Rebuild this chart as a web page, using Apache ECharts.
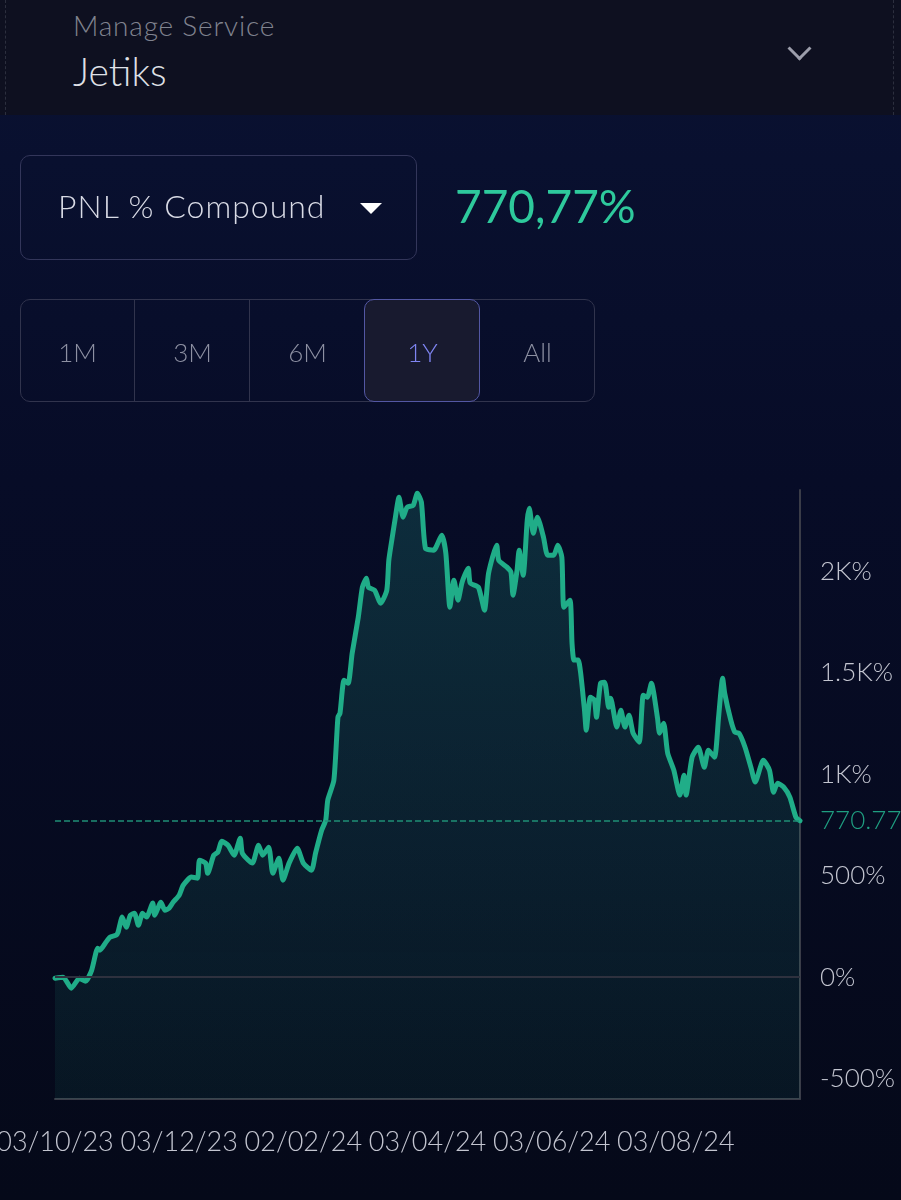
<!DOCTYPE html>
<html>
<head>
<meta charset="utf-8">
<script src="https://cdn.jsdelivr.net/npm/echarts@6/dist/echarts.min.js"></script>
<style>
  html, body { margin:0; padding:0; width:901px; height:1200px; overflow:hidden; }
  body { background: linear-gradient(180deg, #0a1233 0%, #070c27 40%, #050919 100%); font-family: Lato, "Open Sans", sans-serif; font-weight:300; position:relative; }
  #chart { position:absolute; left:0; top:0; width:901px; height:1200px; }
  .ui { position:absolute; pointer-events:none; }
  #header { left:0; top:0; width:901px; height:115px; background:#0e1020; }
  #header .bl { position:absolute; top:0; bottom:0; left:5px; border-left:1px dashed #2c2f3e; }
  #header .br { position:absolute; top:0; bottom:0; left:893px; border-left:1px dashed #2c2f3e; }
  .t { position:absolute; white-space:nowrap; line-height:1; }
</style>
</head>
<body>
<div id="chart"></div>
<div class="ui" id="header">
  <div class="bl"></div><div class="br"></div>
  <div class="t" style="left:73px; top:11px; font-size:28px; color:#80838f; letter-spacing:0.8px;">Manage Service</div>
  <div class="t" style="left:73px; top:52px; font-size:39px; color:#dfe0e6;">Jetiks</div>
  <div class="t" style="left:791px; top:40px; width:14px; height:14px; border-right:3px solid #9c9eab; border-bottom:3px solid #9c9eab; transform:rotate(45deg);"></div>
</div>
<div class="ui" style="left:20px; top:155px; width:395px; height:103px; border:1.5px solid #33365a; border-radius:10px;"></div>
<div class="t ui" style="left:58px; top:190px; font-size:32px; color:#d9dbe6; letter-spacing:1px;">PNL % Compound</div>
<div class="ui" style="left:360px; top:203px; width:0; height:0; border-left:11px solid transparent; border-right:11px solid transparent; border-top:11px solid #ffffff;"></div>
<div class="t ui" style="left:455px; top:183px; font-size:46px; color:#2ec99c; font-weight:400;">770,77%</div>

<div class="ui" style="left:20px; top:299px; width:573px; height:101px; border:1.5px solid #31344d; border-radius:10px;"></div>
<div class="ui" style="left:134px; top:300px; width:0; height:101px; border-left:1.5px solid #31344d;"></div>
<div class="ui" style="left:249px; top:300px; width:0; height:101px; border-left:1.5px solid #31344d;"></div>
<div class="ui" style="left:364px; top:299px; width:114px; height:101px; border:1.5px solid #5357a3; border-radius:10px; background:#181a2f;"></div>
<div class="t ui" style="left:20px; width:115px; top:339px; font-size:26px; color:#8d90a2; text-align:center;">1M</div>
<div class="t ui" style="left:135px; width:115px; top:339px; font-size:26px; color:#8d90a2; text-align:center;">3M</div>
<div class="t ui" style="left:250px; width:115px; top:339px; font-size:26px; color:#8d90a2; text-align:center;">6M</div>
<div class="t ui" style="left:365px; width:115px; top:339px; font-size:26px; color:#7f85f2; text-align:center;">1Y</div>
<div class="t ui" style="left:480px; width:115px; top:339px; font-size:26px; color:#8d90a2; text-align:center;">All</div>

<script>
// Days since 2023-10-03 (start of the 1Y window)
const startDate = '2023-10-03';
const dayOffsets = [0,4,8,12,15,18,21,22,25,27,30,31,33,35,37,39,41,43,45,48,49,52,54,56,58,61,63,67,70,71,74,75,78,80,82,85,88,91,92,95,97,100,102,105,107,110,112,115,119,122,126,128,131,133,134,137,139,140,142,144,146,149,151,153,154,157,160,163,164,166,167,169,171,173,176,178,180,182,186,190,192,194,196,198,200,203,204,208,211,213,217,218,222,224,225,227,228,230,232,233,235,237,240,242,245,247,249,250,253,254,255,257,260,261,263,265,266,268,270,272,273,276,278,280,282,284,287,289,291,293,296,297,299,301,304,307,309,310,313,316,319,321,324,326,328,329,332,334,336,339,342,344,348,351,353,355,358,361,364,366];
// PNL % compound values
const pnl = [-5,0,-54,-5,-20,34,143,133,172,197,207,222,296,246,305,315,256,315,296,365,305,369,330,340,369,404,453,493,488,576,562,512,601,616,670,650,601,685,611,576,562,650,601,640,512,586,478,562,635,562,527,611,724,773,872,970,1281,1300,1463,1448,1596,1773,1921,1965,1921,1906,1842,1906,2054,2187,2251,2364,2266,2315,2325,2384,2340,2113,2103,2177,2089,1823,1956,1857,1946,2015,1941,1921,1808,1990,2128,2054,2020,1995,1882,2005,2103,1980,2251,2310,2187,2266,2167,2079,2079,2128,2069,1823,1857,1645,1562,1562,1330,1217,1379,1365,1281,1448,1453,1330,1374,1232,1315,1232,1291,1202,1158,1389,1379,1448,1276,1202,1251,1103,1020,897,995,897,1084,1133,1034,1118,1084,1281,1473,1399,1266,1207,1202,1133,1030,961,1069,1020,911,956,936,887,788,770.77];
const yTickValues = [-500, 0, 500, 1000, 1500, 2000];
const currentValue = 770.77;

const startMs = Date.parse(startDate + 'T00:00:00Z');
function fmtDate(v) {
  const d = new Date(startMs + v * 86400000);
  const p = n => String(n).padStart(2, '0');
  return p(d.getUTCDate()) + '/' + p(d.getUTCMonth() + 1) + '/' + p(d.getUTCFullYear() % 100);
}
function fmtPct(v) {
  if (Math.abs(v) >= 1000) return (v / 1000) + 'K%';
  return v + '%';
}

const chart = echarts.init(document.getElementById('chart'), null, { renderer: 'canvas' });
chart.setOption({
  backgroundColor: 'transparent',
  animation: false,
  grid: { left: 55, right: 101, top: 490, bottom: 101, containLabel: false, outerBoundsMode: 'none' },
  xAxis: {
    type: 'value', min: 0, max: 366, interval: 61,
    axisLine: { show: true, onZero: false, lineStyle: { color: '#3a3c48', width: 2 } },
    axisTick: { show: false },
    splitLine: { show: false },
    axisLabel: {
      margin: 30, color: '#c3c5d0', fontSize: 27, fontFamily: 'Lato', fontWeight: 300,
      showMaxLabel: false,
      formatter: v => (v > 360 ? '' : fmtDate(v))
    }
  },
  yAxis: {
    type: 'value', position: 'right', min: -600, max: 2400,
    axisLine: { show: true, onZero: false, lineStyle: { color: '#3a3c48', width: 2 } },
    axisTick: { show: false },
    splitLine: { show: false },
    axisLabel: {
      margin: 20, color: '#c3c5d0', fontSize: 26, fontFamily: 'Lato', fontWeight: 300,
      customValues: yTickValues,
      formatter: v => fmtPct(v)
    }
  },
  series: [{
    type: 'line',
    data: dayOffsets.map((d, i) => [d, pnl[i]]),
    showSymbol: false,
    smooth: 0.2,
    lineStyle: { color: '#20ad88', width: 5, join: 'round', cap: 'round' },
    areaStyle: {
      origin: 'start',
      color: new echarts.graphic.LinearGradient(0, 0, 0, 1, [
        { offset: 0, color: 'rgba(45,190,155,0.27)' },
        { offset: 1, color: 'rgba(45,190,155,0.10)' }
      ])
    },
    markLine: {
      silent: true, symbol: 'none', animation: false,
      data: [
        { yAxis: 0, lineStyle: { color: '#2e313e', type: 'solid', width: 2 }, label: { show: false } },
        { yAxis: currentValue, lineStyle: { color: '#1f8f75', type: 'dashed', width: 1.5 },
          label: { show: true, position: 'end', distance: 20, color: '#1f9e80', fontSize: 26, fontFamily: 'Lato', fontWeight: 300,
                   formatter: () => currentValue.toFixed(2) } }
      ]
    },
    z: 3
  }]
});
</script>
</body>
</html>
